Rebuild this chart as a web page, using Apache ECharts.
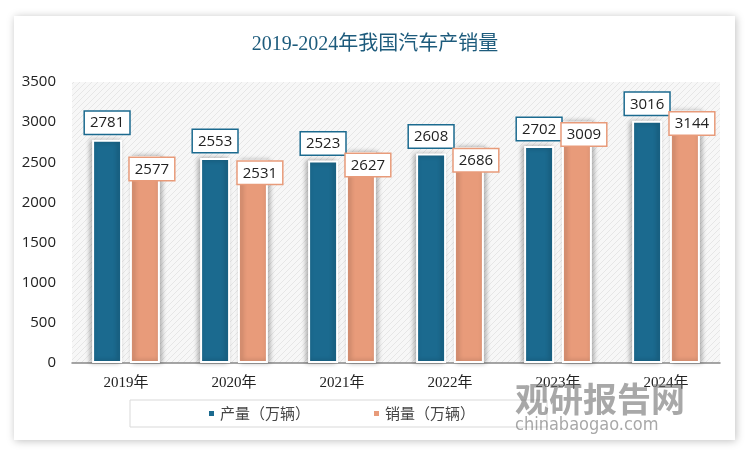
<!DOCTYPE html>
<html>
<head>
<meta charset="utf-8">
<script src="https://cdn.jsdelivr.net/npm/echarts@6/dist/echarts.min.js"></script>
<style>
  html, body { margin: 0; padding: 0; background: #fff; }
  #main { width: 750px; height: 459px; }
</style>
</head>
<body>
<div id="main"></div>
<script>
// 年份
var years = ["2019年", "2020年", "2021年", "2022年", "2023年", "2024年"];
// 产量（万辆）
var output = [2781, 2553, 2523, 2608, 2702, 3016];
// 销量（万辆）
var sales = [2577, 2531, 2627, 2686, 3009, 3144];

// 斜纹背景
function hatch() {
  var c = document.createElement("canvas");
  c.width = 6; c.height = 6;
  var g = c.getContext("2d");
  g.fillStyle = "#f7f7f7";
  g.fillRect(0, 0, 6, 6);
  g.strokeStyle = "#e6e6e6";
  g.lineWidth = 1;
  g.beginPath();
  g.moveTo(0, 6); g.lineTo(6, 0);
  g.moveTo(-3, 3); g.lineTo(3, -3);
  g.moveTo(3, 9); g.lineTo(9, 3);
  g.stroke();
  return c;
}

var myChart = echarts.init(document.getElementById("main"));

var labelFont = { fontFamily: "Open Sans", fontSize: 15, color: "#222" };

myChart.setOption({
  backgroundColor: "#fff",
  animation: false,
  graphic: [
    {
      type: "rect",
      z: -10,
      shape: { x: 14, y: 16, width: 721, height: 424 },
      style: { fill: "#fff", shadowBlur: 8, shadowColor: "rgba(0,0,0,0.25)", shadowOffsetX: 1, shadowOffsetY: 1 }
    },
    {
      type: "text",
      left: 515, top: 382,
      z: 10,
      style: { text: "观研报告网", font: "bold 34px 'Noto Sans CJK SC'", fill: "rgba(110,110,110,0.6)" }
    },
    {
      type: "text",
      left: 515, top: 416,
      z: 10,
      style: { text: "chinabaogao.com", font: "18px 'DejaVu Sans Condensed'", fill: "rgba(110,110,110,0.6)" }
    }
  ],
  title: {
    text: "2019-2024年我国汽车产销量",
    left: "center",
    top: 30,
    textStyle: { fontFamily: "Liberation Serif, Noto Sans CJK SC", fontSize: 20, fontWeight: "normal", color: "#1d5b7c" }
  },
  legend: {
    top: 400,
    left: 130,
    itemGap: 62,
    padding: [6, 72, 6, 77],
    borderColor: "#d9d9d9",
    borderWidth: 1,
    icon: "rect",
    itemWidth: 7,
    itemHeight: 7,
    textStyle: { fontFamily: "Noto Sans CJK SC", fontSize: 15, color: "#444" },
    data: ["产量（万辆）", "销量（万辆）"]
  },
  grid: {
    left: 72, right: 30, top: 82, bottom: 96,
    show: true,
    borderWidth: 0,
    backgroundColor: { image: hatch(), repeat: "repeat" }
  },
  xAxis: {
    type: "category",
    data: years,
    axisLine: { lineStyle: { color: "#888", width: 1.5 } },
    axisTick: { show: false },
    axisLabel: { fontFamily: "Liberation Serif, Noto Sans CJK SC", fontSize: 15, color: "#222", margin: 13 }
  },
  yAxis: {
    type: "value",
    min: 0, max: 3500, interval: 500,
    splitLine: { show: false },
    axisLine: { show: false },
    axisTick: { show: false },
    axisLabel: { fontFamily: "Open Sans", fontSize: 15, color: "#222", margin: 16, formatter: function (v) { return String(v); } }
  },
  series: [
    {
      name: "产量（万辆）",
      type: "bar",
      data: output,
      barWidth: 30,
      barGap: "26%",
      itemStyle: {
        color: "#1b6a8f",
        borderColor: "#fff", borderWidth: 2,
        shadowBlur: 5, shadowColor: "rgba(0,0,0,0.3)", shadowOffsetX: -2, shadowOffsetY: 0
      },
      label: Object.assign({
        show: true, position: "top", distance: 6,
        backgroundColor: "#fff", borderColor: "#1b6a8f", borderWidth: 1.5,
        padding: [4, 5, 3, 5]
      }, labelFont)
    },
    {
      name: "销量（万辆）",
      type: "bar",
      data: sales,
      barWidth: 30,
      itemStyle: {
        color: "#e89b7a",
        borderColor: "#fff", borderWidth: 2,
        shadowBlur: 5, shadowColor: "rgba(0,0,0,0.3)", shadowOffsetX: 2, shadowOffsetY: 0
      },
      label: Object.assign({
        show: true, position: "insideTop", distance: 2, offset: [7, 0],
        backgroundColor: "#fff", borderColor: "#e89b7a", borderWidth: 1.5,
        padding: [4, 5, 3, 5]
      }, labelFont)
    }
  ]
});
</script>
</body>
</html>
